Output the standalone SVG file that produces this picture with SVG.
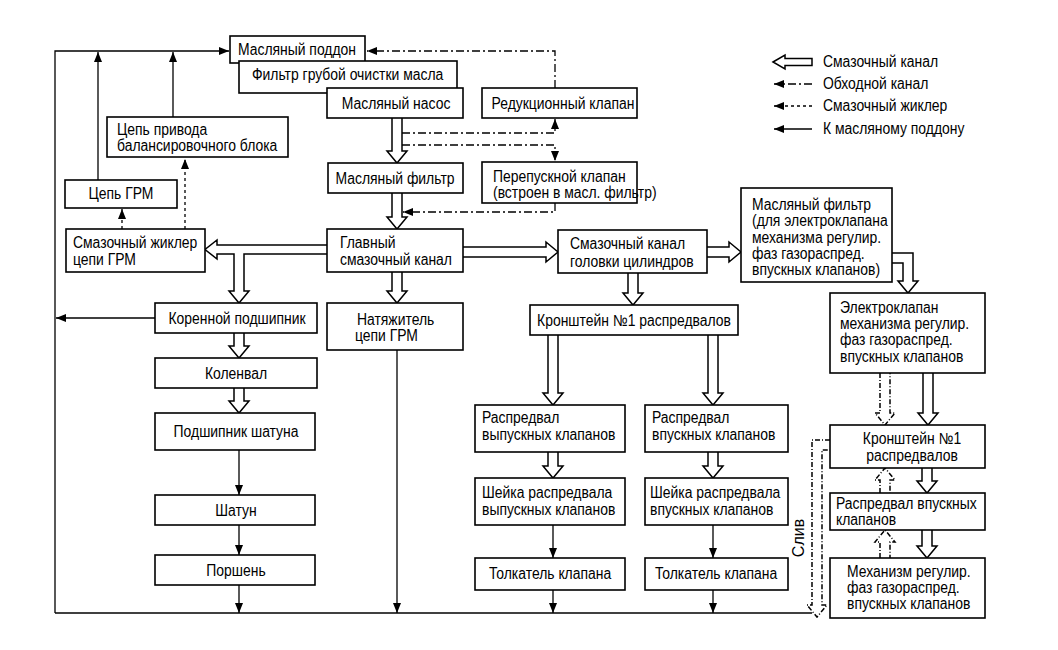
<svg xmlns="http://www.w3.org/2000/svg" width="1058" height="650" viewBox="0 0 1058 650">
<style>
.box{fill:#fff;stroke:#000;stroke-width:1.6}
.t{font-family:"Liberation Sans",Arial,sans-serif;font-size:16px;fill:#000;transform-box:fill-box;transform-origin:0% 50%;transform:scaleX(0.87)}
.c{text-anchor:middle;transform-origin:50% 50%}
.r{font-family:"Liberation Sans",Arial,sans-serif;font-size:16px;fill:#000;text-anchor:middle}
.ln{fill:none;stroke:#000;stroke-width:1.3}
.bp{stroke-dasharray:8 3 2 3}
.jt{stroke-dasharray:3 3}
.ha{fill:#fff;stroke:#000;stroke-width:1.5;stroke-linejoin:miter}
.hd{stroke-dasharray:5 2 1 2}
</style>
<defs>
<marker id="ah" markerUnits="userSpaceOnUse" markerWidth="10" markerHeight="8" refX="10" refY="4" orient="auto"><path d="M0,0 L10,4 L0,8 z" fill="#000"/></marker>
</defs>
<rect width="1058" height="650" fill="#fff"/>
<g id="connectors">
<path class="ha" d="M392,118 L392,151 L387,151 L397,163 L407,151 L402,151 L402,118"/>
<path class="ha" d="M392,193 L392,217 L387,217 L397,229 L407,217 L402,217 L402,193"/>
<path class="ha" d="M392,272 L392,291 L387,291 L397,303 L407,291 L402,291 L402,272"/>
<path class="ha" d="M327,245 L217,245 L217,240 L205,249.5 L217,259 L217,254 L234,254 L234,291 L229,291 L239,303 L249,291 L244,291 L244,254 L327,254"/>
<path class="ha" d="M463,247 L546,247 L546,242 L558,252 L546,262 L546,257 L463,257"/>
<path class="ha" d="M707,247 L729,247 L729,242 L741,252 L729,262 L729,257 L707,257"/>
<path class="ha" d="M892,253 L913,253 L913,281 L918,281 L908,293 L898,281 L903,281 L903,263 L892,263"/>
<path class="ha" d="M628,273 L628,293 L623,293 L633,305 L643,293 L638,293 L638,273"/>
<path class="ha" d="M548,335 L548,393 L543,393 L553,405 L563,393 L558,393 L558,335"/>
<path class="ha" d="M708,335 L708,393 L703,393 L713,405 L723,393 L718,393 L718,335"/>
<path class="ha" d="M548,452 L548,466 L543,466 L553,478 L563,466 L558,466 L558,452"/>
<path class="ha" d="M708,452 L708,466 L703,466 L713,478 L723,466 L718,466 L718,452"/>
<path class="ha" d="M234,333 L234,346 L229,346 L239,358 L249,346 L244,346 L244,333"/>
<path class="ha" d="M234,388 L234,401 L229,401 L239,413 L249,401 L244,401 L244,388"/>
<path class="ha" d="M923,373 L923,413 L918,413 L928,425 L938,413 L933,413 L933,373"/>
<path class="ha hd" d="M880,373 L880,413 L875,413 L885,425 L895,413 L890,413 L890,373"/>
<path class="ha" d="M922,468 L922,481 L917,481 L927,493 L937,481 L932,481 L932,468"/>
<path class="ha hd" d="M880,493 L880,480 L875,480 L885,468 L895,480 L890,480 L890,493"/>
<path class="ha" d="M922,530 L922,546 L917,546 L927,558 L937,546 L932,546 L932,530"/>
<path class="ha hd" d="M880,558 L880,542 L875,542 L885,530 L895,542 L890,542 L890,558"/>
<path class="ha hd" d="M830,440 L812,440 L812,605 L807,605 L817,617 L827,605 L822,605 L822,450 L830,450"/>
<path class="ln" d="M55,613 L55,51 L229,51" marker-end="url(#ah)"/>
<path class="ln" d="M98,180 L98,52" marker-end="url(#ah)"/>
<path class="ln" d="M173,117 L173,52" marker-end="url(#ah)"/>
<path class="ln" d="M155,318 L56,318" marker-end="url(#ah)"/>
<path class="ln" d="M55,613 L812,613"/>
<path class="ln" d="M239,450 L239,495" marker-end="url(#ah)"/>
<path class="ln" d="M239,525 L239,555" marker-end="url(#ah)"/>
<path class="ln" d="M239,585 L239,613" marker-end="url(#ah)"/>
<path class="ln" d="M397,350 L397,613" marker-end="url(#ah)"/>
<path class="ln" d="M553,525 L553,558" marker-end="url(#ah)"/>
<path class="ln" d="M553,590 L553,613" marker-end="url(#ah)"/>
<path class="ln" d="M713,525 L713,558" marker-end="url(#ah)"/>
<path class="ln" d="M713,590 L713,613" marker-end="url(#ah)"/>
<path class="ln jt" d="M185,229 L185,159" marker-end="url(#ah)"/>
<path class="ln jt" d="M122,229 L122,209" marker-end="url(#ah)"/>
<path class="ln bp" d="M555,88 L555,51 L367,51" marker-end="url(#ah)"/>
<path class="ln bp" d="M402,133 L555,133 L555,119" marker-end="url(#ah)"/>
<path class="ln bp" d="M402,145 L555,145 L555,161" marker-end="url(#ah)"/>
<path class="ln bp" d="M555,203 L555,212 L403,212" marker-end="url(#ah)"/>
</g>
<g id="n-poddon"><rect class="box" x="230" y="36" width="135" height="27"/><text class="t c" x="297" y="55">Масляный поддон</text></g>
<g id="n-filter-coarse"><rect class="box" x="239" y="61" width="218" height="32"/><text class="t" x="252" y="80">Фильтр грубой очистки масла</text></g>
<g id="n-pump"><rect class="box" x="327" y="88" width="136" height="30"/><text class="t c" x="396" y="109">Масляный насос</text></g>
<g id="n-reduction"><rect class="box" x="482" y="88" width="155" height="30"/><text class="t c" x="563" y="109">Редукционный клапан</text></g>
<g id="n-oilfilter"><rect class="box" x="328" y="163" width="135" height="30"/><text class="t c" x="395" y="184">Масляный фильтр</text></g>
<g id="n-bypass"><rect class="box" x="482" y="162" width="155" height="41"/><text class="t" x="493" y="182">Перепускной клапан</text><text class="t" x="493" y="198">(встроен в масл. фильтр)</text></g>
<g id="n-balancer"><rect class="box" x="107" y="117" width="181" height="40"/><text class="t" x="117" y="135">Цепь привода</text><text class="t" x="117" y="151">балансировочного блока</text></g>
<g id="n-chain"><rect class="box" x="65" y="180" width="112" height="28"/><text class="t c" x="121" y="199">Цепь ГРМ</text></g>
<g id="n-jet"><rect class="box" x="66" y="229" width="139" height="43"/><text class="t" x="73" y="248">Смазочный жиклер</text><text class="t" x="73" y="265">цепи ГРМ</text></g>
<g id="n-main"><rect class="box" x="327" y="229" width="136" height="43"/><text class="t" x="340" y="248">Главный</text><text class="t" x="340" y="265">смазочный канал</text></g>
<g id="n-head"><rect class="box" x="558" y="230" width="149" height="43"/><text class="t" x="570" y="249">Смазочный канал</text><text class="t" x="570" y="267">головки цилиндров</text></g>
<g id="n-vvtfilter"><rect class="box" x="741" y="188" width="151" height="94"/><text class="t" x="752" y="210">Масляный фильтр</text><text class="t" x="752" y="226">(для электроклапана</text><text class="t" x="752" y="243">механизма регулир.</text><text class="t" x="752" y="259">фаз газораспред.</text><text class="t" x="752" y="275">впускных клапанов)</text></g>
<g id="n-solenoid"><rect class="box" x="830" y="293" width="155" height="80"/><text class="t" x="840" y="313">Электроклапан</text><text class="t" x="840" y="329">механизма регулир.</text><text class="t" x="840" y="345">фаз газораспред.</text><text class="t" x="840" y="362">впускных клапанов</text></g>
<g id="n-main-bearing"><rect class="box" x="155" y="303" width="162" height="30"/><text class="t c" x="237" y="324">Коренной подшипник</text></g>
<g id="n-tensioner"><rect class="box" x="327" y="303" width="136" height="47"/><text class="t" x="357" y="325">Натяжитель</text><text class="t" x="355" y="341">цепи ГРМ</text></g>
<g id="n-bracket1"><rect class="box" x="530" y="305" width="208" height="30"/><text class="t c" x="634" y="326">Кронштейн №1 распредвалов</text></g>
<g id="n-crank"><rect class="box" x="155" y="358" width="162" height="30"/><text class="t c" x="236" y="379">Коленвал</text></g>
<g id="n-rodbearing"><rect class="box" x="155" y="413" width="160" height="37"/><text class="t c" x="236" y="437">Подшипник шатуна</text></g>
<g id="n-rod"><rect class="box" x="155" y="495" width="160" height="30"/><text class="t c" x="236" y="516">Шатун</text></g>
<g id="n-piston"><rect class="box" x="155" y="555" width="160" height="30"/><text class="t c" x="236" y="576">Поршень</text></g>
<g id="n-cam-ex"><rect class="box" x="475" y="405" width="150" height="47"/><text class="t" x="482" y="423">Распредвал</text><text class="t" x="482" y="440">выпускных клапанов</text></g>
<g id="n-cam-in"><rect class="box" x="645" y="405" width="143" height="47"/><text class="t" x="652" y="423">Распредвал</text><text class="t" x="652" y="440">впускных клапанов</text></g>
<g id="n-journal-ex"><rect class="box" x="475" y="478" width="150" height="47"/><text class="t" x="482" y="498">Шейка распредвала</text><text class="t" x="482" y="515">выпускных клапанов</text></g>
<g id="n-journal-in"><rect class="box" x="645" y="478" width="143" height="47"/><text class="t" x="650" y="498">Шейка распредвала</text><text class="t" x="650" y="515">впускных клапанов</text></g>
<g id="n-lifter-ex"><rect class="box" x="475" y="558" width="150" height="32"/><text class="t c" x="550" y="579">Толкатель клапана</text></g>
<g id="n-lifter-in"><rect class="box" x="645" y="558" width="143" height="32"/><text class="t c" x="716" y="579">Толкатель клапана</text></g>
<g id="n-bracket1r"><rect class="box" x="830" y="425" width="155" height="43"/><text class="t c" x="912" y="444">Кронштейн №1</text><text class="t c" x="912" y="461">распредвалов</text></g>
<g id="n-cam-in-r"><rect class="box" x="830" y="493" width="155" height="37"/><text class="t" x="836" y="509">Распредвал впускных</text><text class="t" x="836" y="525">клапанов</text></g>
<g id="n-vvt"><rect class="box" x="830" y="558" width="155" height="60"/><text class="t" x="847" y="577">Механизм регулир.</text><text class="t" x="847" y="593">фаз газораспред.</text><text class="t" x="847" y="609">впускных клапанов</text></g>
<text class="r" transform="translate(804,538) rotate(-90)">Слив</text>
<g id="legend">
<path class="ha" d="M773,62 L785,55 L785,58.5 L812,58.5 L812,65.5 L785,65.5 L785,69 z"/>
<text class="t" x="823" y="67">Смазочный канал</text>
<path class="ln bp" d="M812,84 L774,84" marker-end="url(#ah)"/>
<text class="t" x="823" y="89">Обходной канал</text>
<path class="ln jt" d="M812,106 L774,106" marker-end="url(#ah)"/>
<text class="t" x="823" y="111">Смазочный жиклер</text>
<path class="ln" d="M812,129 L774,129" marker-end="url(#ah)"/>
<text class="t" x="823" y="134">К масляному поддону</text>
</g>
</svg>
